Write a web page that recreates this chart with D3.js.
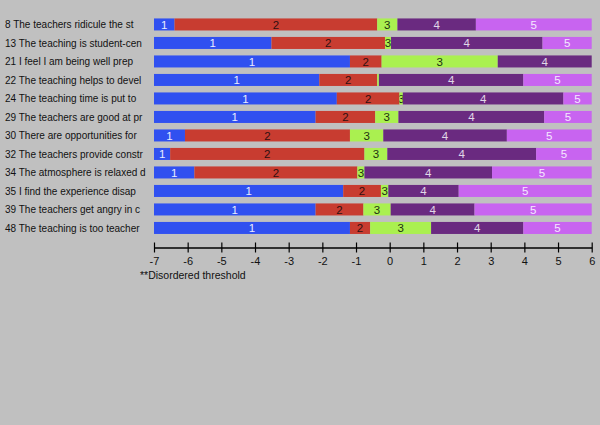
<!DOCTYPE html>
<html><head><meta charset="utf-8">
<script src="https://cdn.jsdelivr.net/npm/d3@7"></script>
<style>
html,body{margin:0;padding:0;background:#c0c0c0;}
svg{display:block;}
text{font-family:"Liberation Sans",Arial,sans-serif;}
</style></head>
<body>
<svg id="chart" width="600" height="425"></svg>
<script>
// Item labels (as shown, truncated)
const items = [
  "8 The teachers ridicule the st",
  "13 The teaching is student-cen",
  "21 I feel I am being well prep",
  "22 The teaching helps to devel",
  "24 The teaching time is put to",
  "29 The teachers are good at pr",
  "30 There are opportunities for",
  "32 The teachers provide constr",
  "34 The atmosphere is relaxed d",
  "35 I find the experience disap",
  "39 The teachers get angry in c",
  "48 The teaching is too teacher"
];
// Thresholds (boundaries between categories 1|2, 2|3, 3|4, 4|5)
const threshold1 = [-6.39, -3.51, -1.18, -2.09, -1.57, -2.20, -6.08, -6.52, -5.80, -1.38, -2.20, -1.18];
const threshold2 = [-0.37, -0.14, -0.24, -0.37,  0.29, -0.43, -1.18, -0.75, -0.96, -0.26, -0.78, -0.58];
const threshold3 = [ 0.23,  0.04,  3.21, -0.32,  0.39,  0.26, -0.19, -0.07, -0.75, -0.04,  0.03,  1.23];
const threshold4 = [ 2.56,  4.54,  6.00,  3.97,  5.16,  4.59,  3.48,  4.35,  3.04,  2.05,  2.52,  3.97];
const categories = ["1","2","3","4","5"];
const axisTicks = [-7,-6,-5,-4,-3,-2,-1,0,1,2,3,4,5,6];
const footnote = "**Disordered threshold";

const fills = ["#3050f0","#c83c30","#aaf050","#6a2a80","#c864f0"];
const textFills = ["#e8ecff","#301010","#203010","#e0d8e8","#f4e8ff"];

const svg = d3.select("#chart");
const x = d3.scaleLinear().domain([-7, 6]).range([154, 591.7]);
const y = d3.scaleBand().domain(items).range([15.2, 237.2]).paddingInner(0.35).paddingOuter(0.175);

const segs = [];
items.forEach((it, i) => {
  const b = [-7, threshold1[i], threshold2[i], threshold3[i], threshold4[i], 6];
  for (let k = 0; k < 5; k++) {
    segs.push({item: it, i, k, x0: b[k], x1: b[k+1]});
  }
});

const defs = svg.append("defs");
segs.forEach((s, j) => {
  defs.append("clipPath").attr("id", "c" + j)
    .append("rect")
    .attr("x", x(s.x0)).attr("y", y(s.item))
    .attr("width", Math.max(0, x(s.x1) - x(s.x0))).attr("height", y.bandwidth());
});

// row labels
const labels = svg.append("g").selectAll("text").data(items).join("text")
  .attr("x", 5).attr("y", d => y(d) + y.bandwidth()/2)
  .attr("dy", "0.36em").attr("font-size", 11.5).attr("fill", "#111")
  .text(d => d);
// fit labels so the longest ends just before the bars
let maxW = 0;
labels.each(function(){ maxW = Math.max(maxW, this.getComputedTextLength()); });
const fs = 11.5 * Math.min(1, 141 / maxW);
labels.attr("font-size", fs);

const g = svg.append("g");
g.selectAll("rect").data(segs).join("rect")
  .attr("x", d => x(d.x0)).attr("y", d => y(d.item))
  .attr("width", d => Math.max(0, x(d.x1) - x(d.x0)))
  .attr("height", y.bandwidth())
  .attr("fill", d => fills[d.k]);

g.selectAll("text").data(segs.filter(s => x(s.x1) - x(s.x0) > 2)).join("text")
  .attr("clip-path", d => "url(#c" + segs.indexOf(d) + ")")
  .attr("x", d => (x(d.x0) + x(d.x1)) / 2)
  .attr("y", d => y(d.item) + y.bandwidth()/2)
  .attr("dy", "0.36em").attr("text-anchor", "middle")
  .attr("font-size", 11.5)
  .attr("fill", d => textFills[d.k])
  .text(d => categories[d.k]);

// axis
const ax = svg.append("g").attr("transform", "translate(0,247.5)")
  .call(d3.axisBottom(x).tickValues(axisTicks).tickSize(0).tickPadding(10).tickFormat(d => String(d)));
ax.select(".domain").attr("stroke", "#000").attr("stroke-width", 1.5);
ax.selectAll(".tick line").remove();
ax.selectAll(".tick").append("line").attr("y1", -5).attr("y2", 5).attr("stroke", "#000").attr("stroke-width", 1.2);
ax.selectAll(".tick text").attr("font-size", 11).attr("fill", "#111")
  .attr("font-family", "Liberation Sans, Arial, sans-serif");

svg.append("text").attr("x", 140).attr("y", 279).attr("font-size", 10.5)
  .attr("fill", "#111").text(footnote);
</script>
</body></html>
